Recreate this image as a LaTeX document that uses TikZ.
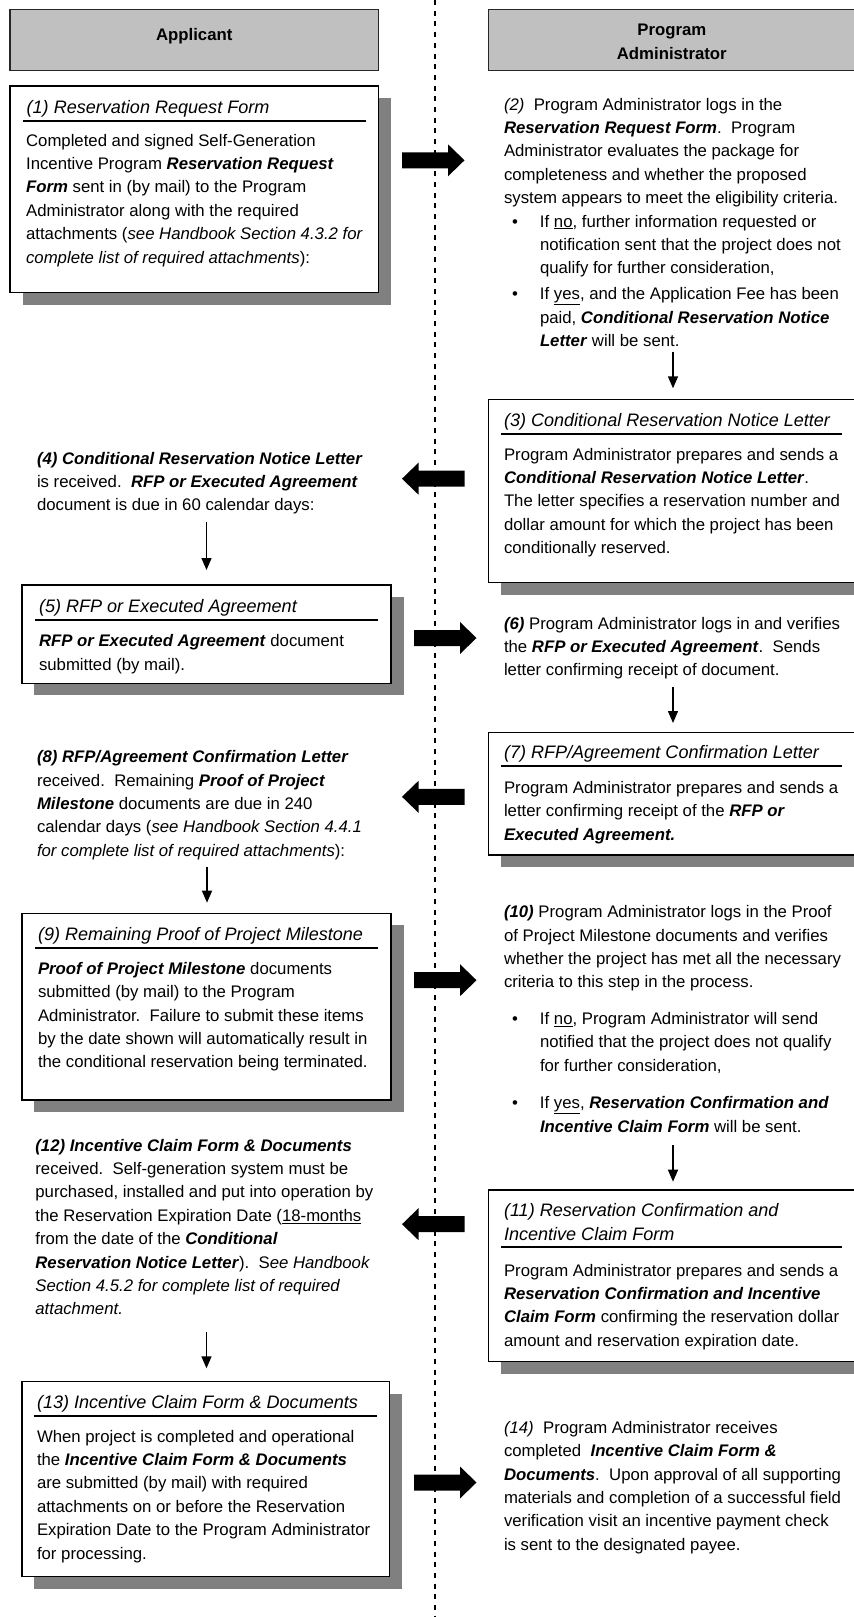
\documentclass[tikz,border=0pt]{standalone}
\usepackage{fontspec}
\setmainfont{Liberation Sans}
\usetikzlibrary{arrows.meta}
\definecolor{hdrgray}{HTML}{C0C0C0}
\definecolor{shgray}{HTML}{808080}
\newcommand{\bfit}[1]{\textbf{\textit{#1}}}
\newcommand{\mybul}{\makebox[36pt][l]{\hspace{8pt}\textbullet}}
\newcommand{\myind}{\hspace*{36pt}}
\frenchspacing
\tikzset{
  txt/.style={font=\fontsize{16.75}{23.4}\selectfont, align=left, inner sep=0pt, outer sep=0pt, anchor=north west, yshift=16.38pt},
  ttl/.style={txt, font=\fontsize{18.05}{23.4}\selectfont\itshape},
  hdrtxt/.style={txt, align=center, anchor=north, font=\fontsize{16.75}{24}\selectfont\bfseries},
  box/.style={draw=black, line width=1.4pt, fill=white, anchor=north west, inner sep=0pt, outer sep=0pt,
    preaction={fill=shgray, transform canvas={shift={(12.5pt,-12pt)}}}},
  hdr/.style={draw=black!85, line width=1.4pt, fill=hdrgray, anchor=north west, inner sep=0pt, outer sep=0pt},
  arr/.style={line width=1.4pt, -{Triangle[length=12pt,width=10pt]}},
  uline/.style={line width=2pt},
  lane/.style={line width=1.5pt, dash pattern=on 5pt off 5.7pt},
  rarr/.pic={\fill (0,-8) -- (46,-8) -- (46,-16) -- (62.5,0) -- (46,16) -- (46,8) -- (0,8) -- cycle;},
  larr/.pic={\fill (0,-8) -- (-46,-8) -- (-46,-16) -- (-62.5,0) -- (-46,16) -- (-46,8) -- (0,8) -- cycle;},
}
\begin{document}
\begin{tikzpicture}[x=1pt,y=-1pt]
\useasboundingbox (0,0) rectangle (854,1617);
\clip (0,0) rectangle (854,1617);

% swim lane divider
\coordinate (laneT) at (435,0);
\coordinate (laneB) at (435,1617);
\draw[lane] (laneT) -- (laneB);

% headers
\node[hdr, minimum width=368.5pt, minimum height=61.4pt] (h1) at (10,9.3) {};
\node[hdrtxt] (h1t) at (194.25,40.5) {\strut Applicant};
\node[hdr, minimum width=366.5pt, minimum height=61.4pt] (h2) at (488.6,9.3) {};
\node[hdrtxt] (h2t) at (671.8,35) {\strut Program\\Administrator};

% boxes
\node[box, minimum width=368.5pt, minimum height=206.5pt] (b1) at (10,86) {};
\node[box, minimum width=366.5pt, minimum height=183.4pt] (b3) at (488.6,399.3) {};
\node[box, minimum width=369.2pt, minimum height=98.3pt] (b5) at (21.8,585) {};
\node[box, minimum width=366.5pt, minimum height=122.3pt] (b7) at (488.6,732.7) {};
\node[box, minimum width=369.2pt, minimum height=186.7pt] (b9) at (21.8,913.3) {};
\node[box, minimum width=366.5pt, minimum height=171.7pt] (b11) at (488.6,1190) {};
\node[box, minimum width=367.6pt, minimum height=195pt] (b13) at (21.8,1381.7) {};

% title underlines
\draw[uline] (22.7,120.7) -- (366,120.7);
\draw[uline] (501,434) -- (842,434);
\draw[uline] (35.4,620) -- (377.5,620);
\draw[uline] (501,766) -- (842,766);
\draw[uline] (35.4,948.3) -- (377.5,948.3);
\draw[uline] (501,1247.3) -- (842,1247.3);
\draw[uline] (33.8,1416) -- (377,1416);

% (1)
\node[ttl] (t1ttl) at (26.7,113.2) {\strut(1) Reservation Request Form};
\node[txt] (t1) at (26.1,146) {\strut Completed and signed Self-Generation\\
Incentive Program \bfit{Reservation Request}\\
\bfit{Form} sent in (by mail) to the Program\\
Administrator along with the required\\
attachments (\textit{see Handbook Section 4.3.2 for}\\
\textit{complete list of required attachments}):};

% (2)
\node[txt] (t2) at (504,110) {\strut\textit{(2)}\ \ Program Administrator logs in the\\
\bfit{Reservation Request Form}.\ \ Program\\
Administrator evaluates the package for\\
completeness and whether the proposed\\
system appears to meet the eligibility criteria.\\
\mybul If \underline{no}, further information requested or\\
\myind notification sent that the project does not\\
\myind qualify for further consideration,\\[2.5pt]
\mybul If \underline{yes}, and the Application Fee has been\\
\myind paid, \bfit{Conditional Reservation Notice}\\
\myind\bfit{Letter} will be sent.};

% (3)
\node[ttl] (t3ttl) at (504,426.5) {\strut(3) Conditional Reservation Notice Letter};
\node[txt] (t3) at (504,460) {\strut Program Administrator prepares and sends a\\
\bfit{Conditional Reservation Notice Letter}.\\
The letter specifies a reservation number and\\
dollar amount for which the project has been\\
conditionally reserved.};

% (4)
\node[txt] (t4) at (37,464) {\strut\bfit{(4) Conditional Reservation Notice Letter}\\
is received.\ \ \bfit{RFP or Executed Agreement}\\
document is due in 60 calendar days:};

% (5)
\node[ttl] (t5ttl) at (39,612.5) {\strut(5) RFP or Executed Agreement};
\node[txt] (t5) at (39,646.7) {\strut\bfit{RFP or Executed Agreement} document\\
submitted (by mail).};

% (6)
\node[txt] (t6) at (504,629) {\strut\bfit{(6)} Program Administrator logs in and verifies\\
the \bfit{RFP or Executed Agreement}.\ \ Sends\\
letter confirming receipt of document.};

% (7)
\node[ttl] (t7ttl) at (504,758.5) {\strut(7) RFP/Agreement Confirmation Letter};
\node[txt] (t7) at (504,793.3) {\strut Program Administrator prepares and sends a\\
letter confirming receipt of the \bfit{RFP or}\\
\bfit{Executed Agreement.}};

% (8)
\node[txt] (t8) at (37,762.7) {\strut\bfit{(8) RFP/Agreement Confirmation Letter}\\
received.\ \ Remaining \bfit{Proof of Project}\\
\bfit{Milestone} documents are due in 240\\
calendar days (\textit{see Handbook Section 4.4.1}\\
\textit{for complete list of required attachments}):};

% (9)
\node[ttl] (t9ttl) at (38,940.8) {\strut(9) Remaining Proof of Project Milestone};
\node[txt] (t9) at (38,974.3) {\strut\bfit{Proof of Project Milestone} documents\\
submitted (by mail) to the Program\\
Administrator.\ \ Failure to submit these items\\
by the date shown will automatically result in\\
the conditional reservation being terminated.};

% (10)
\node[txt] (t10) at (504,917.7) {\strut\bfit{(10)} Program Administrator logs in the Proof\\
of Project Milestone documents and verifies\\
whether the project has met all the necessary\\
criteria to this step in the process.\\[13pt]
\mybul If \underline{no}, Program Administrator will send\\
\myind notified that the project does not qualify\\
\myind for further consideration,\\[14.2pt]
\mybul If \underline{yes}, \bfit{Reservation Confirmation and}\\
\myind\bfit{Incentive Claim Form} will be sent.};

% (11)
\node[ttl] (t11ttl) at (504,1216) {\strut(11) Reservation Confirmation and\\[0.6pt]
Incentive Claim Form};
\node[txt] (t11) at (504,1276) {\strut Program Administrator prepares and sends a\\
\bfit{Reservation Confirmation and Incentive}\\
\bfit{Claim Form} confirming the reservation dollar\\
amount and reservation expiration date.};

% (12)
\node[txt] (t12) at (35.4,1151) {\strut\bfit{(12) Incentive Claim Form \& Documents}\\
received.\ \ Self-generation system must be\\
purchased, installed and put into operation by\\
the Reservation Expiration Date (\underline{18-months}\\
from the date of the \bfit{Conditional}\\
\bfit{Reservation Notice Letter}).\ \ S\textit{ee Handbook}\\
\textit{Section 4.5.2 for complete list of required}\\
\textit{attachment.}};

% (13)
\node[ttl] (t13ttl) at (37,1408.5) {\strut(13) Incentive Claim Form \& Documents};
\node[txt] (t13) at (37,1442) {\strut When project is completed and operational\\
the \bfit{Incentive Claim Form \& Documents}\\
are submitted (by mail) with required\\
attachments on or before the Reservation\\
Expiration Date to the Program Administrator\\
for processing.};

% (14)
\node[txt] (t14) at (504,1433.3) {\strut\textit{(14)}\ \ Program Administrator receives\\
completed\ \ \bfit{Incentive Claim Form \&}\\
\bfit{Documents}.\ \ Upon approval of all supporting\\
materials and completion of a successful field\\
verification visit an incentive payment check\\
is sent to the designated payee.};

% block arrows between lanes
\pic (a12) at (402,160.3) {rarr};
\pic (a34) at (464.5,478.7) {larr};
\pic (a56) at (414,638) {rarr};
\pic (a78) at (464.5,796.8) {larr};
\pic (a910) at (414,980.2) {rarr};
\pic (a1112) at (464.5,1224.2) {larr};
\pic (a1314) at (414,1482.5) {rarr};

% down arrows
\coordinate (d23a) at (673,351.7);   \coordinate (d23b) at (673,388.3);
\coordinate (d45a) at (206.5,521.7); \coordinate (d45b) at (206.5,570);
\coordinate (d67a) at (673,687);     \coordinate (d67b) at (673,723);
\coordinate (d89a) at (207,866.7);   \coordinate (d89b) at (207,902.7);
\coordinate (d1011a) at (673,1145);  \coordinate (d1011b) at (673,1181.7);
\coordinate (d1213a) at (206.5,1331.7); \coordinate (d1213b) at (206.5,1368.3);
\draw[arr] (d23a) -- (d23b);
\draw[arr] (d45a) -- (d45b);
\draw[arr] (d67a) -- (d67b);
\draw[arr] (d89a) -- (d89b);
\draw[arr] (d1011a) -- (d1011b);
\draw[arr] (d1213a) -- (d1213b);
\end{tikzpicture}
\end{document}
